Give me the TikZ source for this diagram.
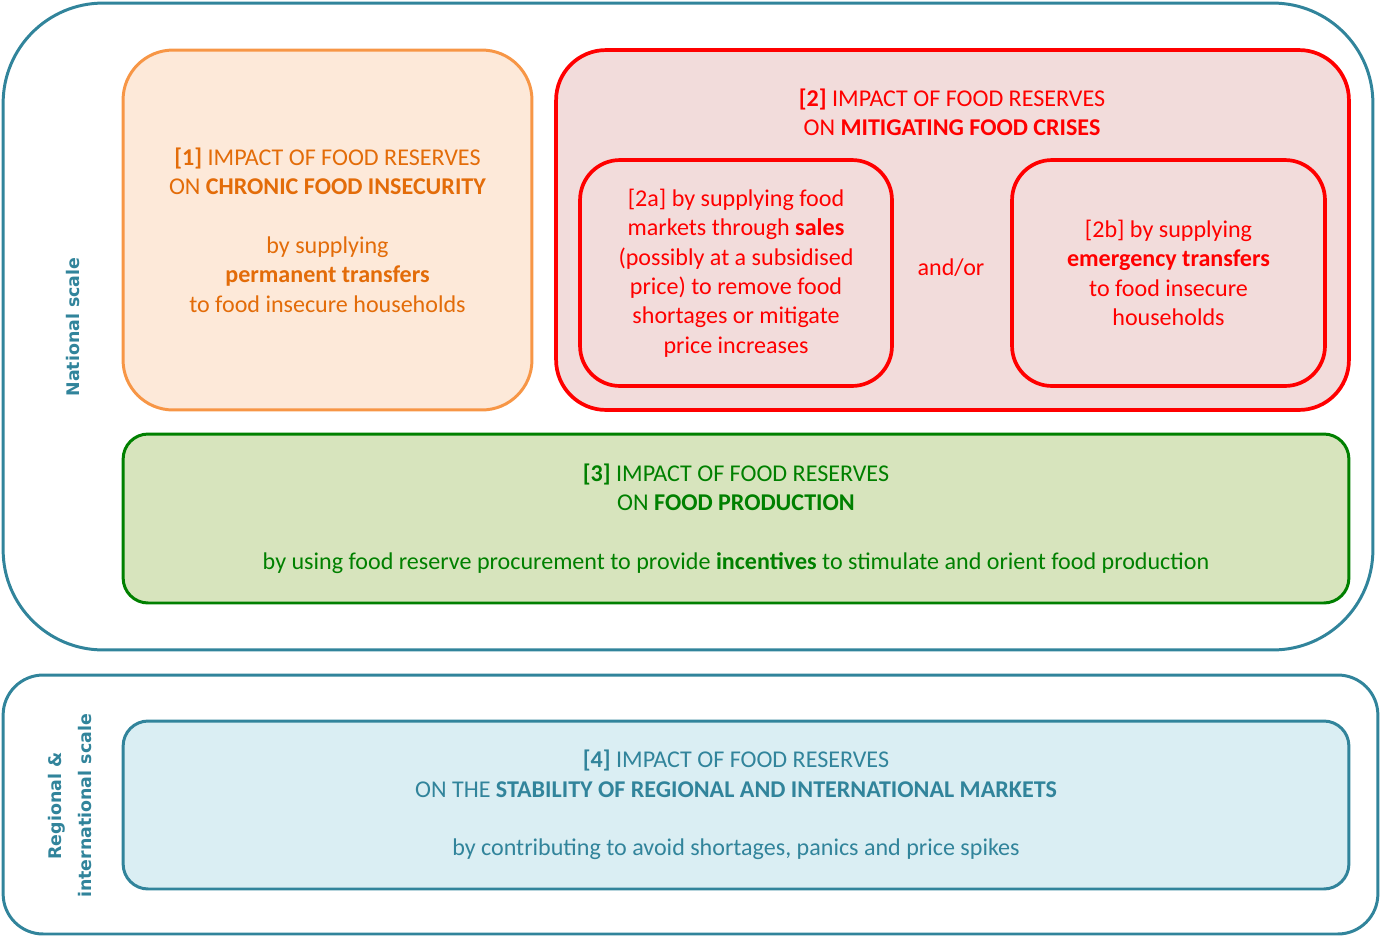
\documentclass[tikz,border=0pt]{standalone}
\usepackage{fontspec}
\setmainfont{Carlito}
\newfontfamily\scalefont{DejaVu Sans}

\definecolor{scaleblue}{HTML}{31849B}
\definecolor{chronicline}{HTML}{F79646}
\definecolor{chronicfill}{HTML}{FDE9D9}
\definecolor{chronictext}{HTML}{E36C09}
\definecolor{crisisred}{HTML}{FF0000}
\definecolor{crisisfill}{HTML}{F2DCDB}
\definecolor{prodgreen}{HTML}{008000}
\definecolor{prodfill}{HTML}{D7E4BD}
\definecolor{marketfill}{HTML}{DAEEF3}

\tikzset{
  box/.style={draw, rounded corners=#1, line width=1.7pt, align=center, inner sep=0pt,
    font=\fontsize{13.7}{16.7}\selectfont},
  box/.default=1cm,
  frame/.style={box=#1, draw=scaleblue},
  scalelabel/.style={rotate=90, align=center, text=scaleblue,
    font=\scalefont\bfseries\fontsize{9.9}{17}\selectfont},
  plain/.style={align=center, inner sep=0pt, font=\fontsize{13.7}{16.7}\selectfont}
}

\begin{document}
\begin{tikzpicture}[x=0.02cm,y=-0.02cm]
  \useasboundingbox (0,0) rectangle (1381,937);

  % the two scales
  \node[frame=2cm, minimum width=27.4cm, minimum height=12.94cm] (national) at (688,326.5) {};
  \node[frame=0.8cm, minimum width=27.5cm, minimum height=5.18cm] (regional) at (690.5,804.5) {};
  \node[scalelabel] (natlabel) at (73,327) {National scale};
  \node[scalelabel] (reglabel) at (70,806) {Regional \&\\ international scale};

  % [1] chronic food insecurity
  \node[box, draw=chronicline, fill=chronicfill, text=chronictext,
        minimum width=8.18cm, minimum height=7.2cm] (chronic) at (327.5,230)
    {\textbf{[1]} IMPACT OF FOOD RESERVES\\ ON \textbf{CHRONIC FOOD INSECURITY}\\[16.7pt]
     by supplying\\ \textbf{permanent transfers}\\ to food insecure households};

  % [2] food crises, with its two ways
  \node[box, draw=crisisred, fill=crisisfill, line width=2.1pt,
        minimum width=15.86cm, minimum height=7.2cm] (crises) at (952.5,230) {};
  \node[plain, text=crisisred] (crisestitle) at (952,112)
    {\textbf{[2]} IMPACT OF FOOD RESERVES\\ ON \textbf{MITIGATING FOOD CRISES}};
  \node[box=0.8cm, draw=crisisred, text=crisisred, line width=2.1pt,
        minimum width=6.24cm, minimum height=4.52cm] (sales) at (736,273)
    {[2a] by supplying food\\ markets through \textbf{sales}\\ (possibly at a subsidised\\
     price) to remove food\\ shortages or mitigate\\ price increases};
  \node[plain, text=crisisred] (andor) at (951,268) {and/or};
  \node[box=0.8cm, draw=crisisred, text=crisisred, line width=2.1pt,
        minimum width=6.26cm, minimum height=4.52cm] (emergency) at (1168.5,273)
    {[2b] by supplying\\ \textbf{emergency transfers}\\ to food insecure\\ households};

  % [3] food production
  \node[box=0.5cm, draw=prodgreen, fill=prodfill, text=prodgreen,
        minimum width=24.52cm, minimum height=3.38cm] (production) at (736,518.5)
    {\textbf{[3]} IMPACT OF FOOD RESERVES\\ ON \textbf{FOOD PRODUCTION}\\[16.7pt]
     by using food reserve procurement to provide \textbf{incentives} to stimulate and orient food production};

  % [4] regional and international markets
  \node[box=0.5cm, draw=scaleblue, fill=marketfill, text=scaleblue,
        minimum width=24.52cm, minimum height=3.36cm] (markets) at (736,805)
    {\textbf{[4]} IMPACT OF FOOD RESERVES\\ ON THE \textbf{STABILITY OF REGIONAL AND INTERNATIONAL MARKETS}\\[16.7pt]
     by contributing to avoid shortages, panics and price spikes};
\end{tikzpicture}
\end{document}
